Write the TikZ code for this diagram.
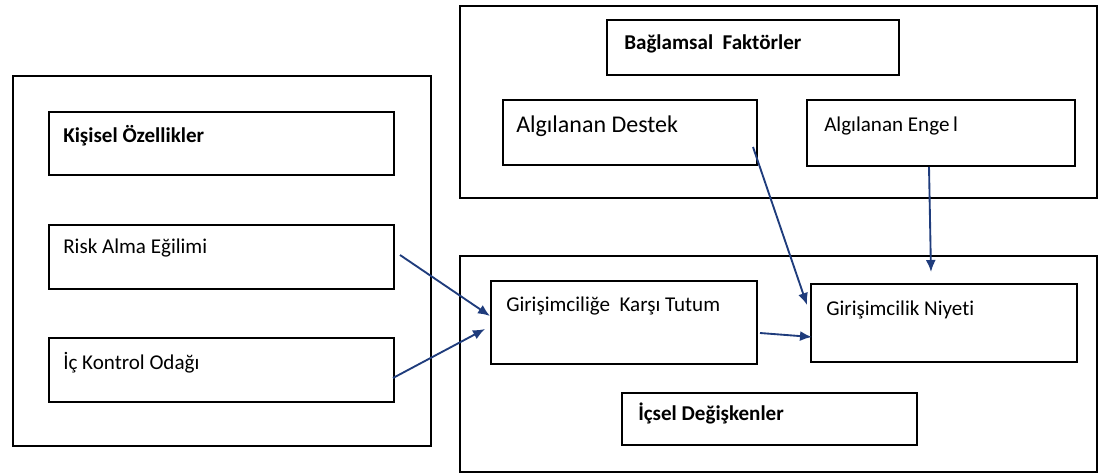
\documentclass[tikz,border=0pt]{standalone}
\usepackage{fontspec}
\setmainfont{Carlito}[Ligatures=NoCommon]
\usetikzlibrary{arrows.meta,calc}
\definecolor{arrowblue}{HTML}{1F3C7C}
\tikzset{
  box/.style={draw=black, line width=1.8pt, rectangle, anchor=north west, inner sep=0pt, fill=white},
  outer/.style={draw=black, line width=1.7pt, rectangle, anchor=north west, inner sep=0pt},
  txt/.style={anchor=base west, inner sep=0pt, font=\fontsize{15.8}{18}\selectfont},
  btxt/.style={txt, font=\fontsize{15.8}{18}\selectfont\bfseries},
  bigtxt/.style={txt, font=\fontsize{18}{21}\selectfont},
  conn/.style={draw=arrowblue, line width=1.4pt, -{Latex[length=9pt,width=7.5pt]}},
}
\begin{document}
\begin{tikzpicture}[x=0.75pt,y=-0.75pt]
\useasboundingbox (0,0) rectangle (1098,473);
% outer frames
\node[outer, minimum width=418*0.75pt, minimum height=370*0.75pt] (left) at (12,75) {};
\node[outer, minimum width=637*0.75pt, minimum height=192*0.75pt] (top) at (459,5) {};
\node[outer, minimum width=637*0.75pt, minimum height=216*0.75pt] (bottom) at (459,255) {};
% left boxes
\node[box, minimum width=345*0.75pt, minimum height=63*0.75pt] (kis) at (48,111) {};
\node[btxt] (kist) at (63,143) {Kişisel Özellikler};
\node[box, minimum width=345*0.75pt, minimum height=64*0.75pt] (risk) at (48,224) {};
\node[txt] (riskt) at (63,254) {Risk Alma Eğilimi};
\node[box, minimum width=345*0.75pt, minimum height=64*0.75pt] (ic) at (48,337) {};
\node[txt] (ict) at (63,369) {İç Kontrol Odağı};
% top boxes
\node[box, minimum width=292*0.75pt, minimum height=55*0.75pt] (bag) at (606,19) {};
\node[btxt] (bagt) at (624,50) {Bağlamsal\ \ Faktörler};
\node[box, minimum width=254*0.75pt, minimum height=65*0.75pt] (des) at (502,99) {};
\node[bigtxt] (dest) at (516,133) {Algılanan Destek};
\node[box, minimum width=268*0.75pt, minimum height=66*0.75pt] (eng) at (806,99) {};
\node[txt] (engt) at (824,132) {Algılanan Enge\,l};
% bottom boxes
\node[box, minimum width=266*0.75pt, minimum height=83*0.75pt] (tut) at (490,280) {};
\node[txt] (tutt) at (506,312) {Girişimciliğe\ \ Karşı Tutum};
\node[box, minimum width=266*0.75pt, minimum height=78*0.75pt] (niy) at (810,283) {};
\node[txt] (niyt) at (826,316) {Girişimcilik Niyeti};
\node[box, minimum width=295*0.75pt, minimum height=52*0.75pt] (ics) at (621,392) {};
\node[btxt] (icst) at (638,420) {İçsel Değişkenler};
% connector end points
\coordinate (r1) at (400,255);
\coordinate (r2) at (490,316);
\coordinate (i1) at (393,378);
\coordinate (i2) at (485,329);
\coordinate (d1) at (753,147);
\coordinate (d2) at (807,305);
\coordinate (e1) at (929,167);
\coordinate (e2) at (931,272);
\coordinate (t1) at (760,333);
\coordinate (t2) at (812,337);
\draw[conn] (r1) -- (r2);
\draw[conn] (i1) -- (i2);
\draw[conn] (d1) -- (d2);
\draw[conn] (e1) -- (e2);
\draw[conn] (t1) -- (t2);
\end{tikzpicture}
\end{document}
